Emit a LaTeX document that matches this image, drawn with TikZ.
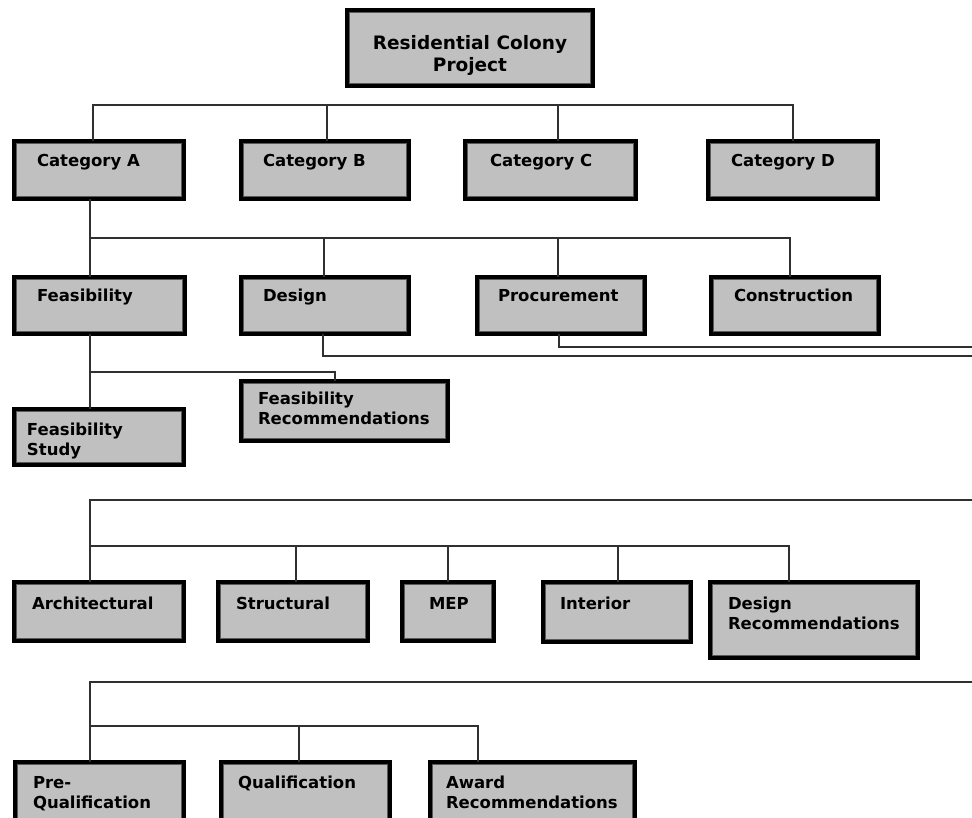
\documentclass[tikz,border=0pt]{standalone}
\usepackage{fontspec}
\setmainfont{DejaVu Sans}
\newfontfamily\lblfamily{DejaVu Sans Bold}
\definecolor{silverfill}{HTML}{C0C0C0}
\definecolor{wirecol}{HTML}{303030}
\definecolor{innercol}{HTML}{5A5A5A}
\newcommand\lblfont{\lblfamily\fontsize{16.5}{20.5}\selectfont}
\newcommand\rootfont{\lblfamily\fontsize{18.5}{22}\selectfont}
\tikzset{
  bx/.style={rectangle, draw=black, line width=4pt, fill=silverfill, inner sep=0pt, outer sep=0pt},
  innerln/.style={draw=innercol, line width=1pt},
  lbl/.style={font=\lblfont, inner sep=0pt, outer sep=0pt, text=black, anchor=base west},
  wire/.style={draw=wirecol, line width=1.3pt}
}
\newcommand\mkbox[5]{%
  \node[bx, minimum width={#4-#2-4}, minimum height={#5-#3-4}] (#1) at ({(#2+#4)/2},{(#3+#5)/2}) {};
  \draw[innerln] ([shift={(2.5pt,-2.5pt)}]#1.north west) rectangle ([shift={(-2.5pt,2.5pt)}]#1.south east);
}
\newcommand\two[2]{\begin{tabular}[t]{@{}l@{}}#1\\#2\end{tabular}}
\begin{document}
\begin{tikzpicture}[x=1pt,y=-1pt]
\useasboundingbox (0,0) rectangle (972,818);
\clip (0,0) rectangle (972,818);
\fill[white] (0,0) rectangle (972,818);

% ---------- wires ----------
\coordinate (b1) at (93,105);
\coordinate (b1e) at (793,105);
\coordinate (dB) at (327,105);
\coordinate (dC) at (558,105);
\coordinate (b2) at (90,238);
\coordinate (b2e) at (790,238);
\coordinate (dDe) at (324,238);
\coordinate (dPr) at (558,238);
\coordinate (dd) at (323,356);
\coordinate (ddE) at (980,356);
\coordinate (pp) at (559,347);
\coordinate (ppE) at (980,347);
\coordinate (fs) at (90,372);
\coordinate (fsE) at (335,372);
\coordinate (r5t) at (90,500);
\coordinate (r5tE) at (980,500);
\coordinate (r5b) at (90,546);
\coordinate (r5bE) at (789,546);
\coordinate (dSt) at (296,546);
\coordinate (dMe) at (448,546);
\coordinate (dIn) at (618,546);
\coordinate (r6t) at (90,682);
\coordinate (r6tE) at (980,682);
\coordinate (r6b) at (90,726);
\coordinate (r6bE) at (478,726);
\coordinate (dQu) at (299,726);

% ---------- boxes ----------
\mkbox{root}{345}{8}{595}{88}
\mkbox{catA}{12}{139}{186}{201}
\mkbox{catB}{239}{139}{411}{201}
\mkbox{catC}{463}{139}{638}{201}
\mkbox{catD}{706}{139}{880}{201}
\mkbox{feas}{12}{275}{187}{336}
\mkbox{design}{239}{275}{411}{336}
\mkbox{proc}{475}{275}{647}{336}
\mkbox{constr}{709}{275}{881}{336}
\mkbox{fStudy}{12}{407}{186}{467}
\mkbox{fRec}{239}{379}{450}{443}
\mkbox{arch}{12}{580}{186}{643}
\mkbox{struct}{216}{580}{370}{643}
\mkbox{mep}{400}{580}{496}{643}
\mkbox{inter}{541}{580}{693}{644}
\mkbox{dRec}{708}{580}{920}{660}
\mkbox{preq}{13}{760}{186}{840}
\mkbox{qual}{219}{760}{392}{840}
\mkbox{award}{428}{760}{637}{840}

% ---------- connectors ----------
\draw[wire] (catA.north -| b1) -- (b1) -- (b1e) -- (catD.north -| b1e);
\draw[wire] (dB) -- (catB.north -| dB);
\draw[wire] (dC) -- (catC.north -| dC);

\draw[wire] (catA.south -| b2) -- (feas.north -| b2);
\draw[wire] (b2) -- (b2e) -- (constr.north -| b2e);
\draw[wire] (dDe) -- (design.north -| dDe);
\draw[wire] (dPr) -- (proc.north -| dPr);

\draw[wire] (design.south -| dd) -- (dd) -- (ddE);
\draw[wire] (proc.south -| pp) -- (pp) -- (ppE);

\draw[wire] (feas.south -| fs) -- (fStudy.north -| fs);
\draw[wire] (fs) -- (fsE) -- (fRec.north -| fsE);

\draw[wire] (r5tE) -- (r5t) -- (arch.north -| r5t);
\draw[wire] (r5b) -- (r5bE) -- (dRec.north -| r5bE);
\draw[wire] (dSt) -- (struct.north -| dSt);
\draw[wire] (dMe) -- (mep.north -| dMe);
\draw[wire] (dIn) -- (inter.north -| dIn);

\draw[wire] (r6tE) -- (r6t) -- (preq.north -| r6t);
\draw[wire] (r6b) -- (r6bE) -- (award.north -| r6bE);
\draw[wire] (dQu) -- (qual.north -| dQu);

% ---------- labels ----------
\node[lbl, font=\rootfont, anchor=base] (tRoot) at (470,50) {\begin{tabular}[t]{@{}c@{}}Residential Colony\\Project\end{tabular}};
\node[lbl] (tA) at (37,167) {Category A};
\node[lbl] (tB) at (263,167) {Category B};
\node[lbl] (tC) at (490,167) {Category C};
\node[lbl] (tD) at (731,167) {Category D};
\node[lbl] (tFeas) at (37,302) {Feasibility};
\node[lbl] (tDes) at (263,302) {Design};
\node[lbl] (tProc) at (498,302) {Procurement};
\node[lbl] (tCons) at (734,302) {Construction};
\node[lbl] (tFS) at (27,435) {\two{Feasibility}{Study}};
\node[lbl] (tFR) at (258,404) {\two{Feasibility}{Recommendations}};
\node[lbl] (tArch) at (32,609) {Architectural};
\node[lbl] (tStr) at (236,609) {Structural};
\node[lbl] (tMep) at (429,609) {MEP};
\node[lbl] (tInt) at (560,609) {Interior};
\node[lbl] (tDR) at (728,609) {\two{Design}{Recommendations}};
\node[lbl] (tPre) at (33,788) {\two{Pre-}{Qualification}};
\node[lbl] (tQual) at (238,788) {Qualification};
\node[lbl] (tAw) at (446,788) {\two{Award}{Recommendations}};
\end{tikzpicture}
\end{document}
